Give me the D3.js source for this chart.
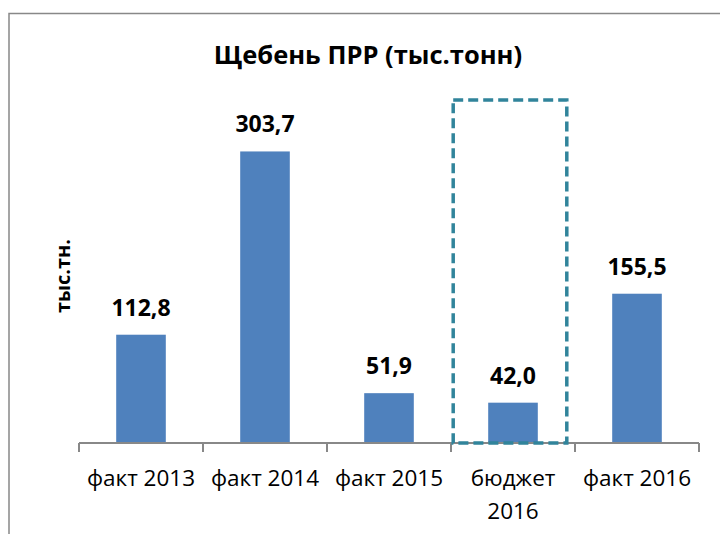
<!DOCTYPE html>
<html><head><meta charset="utf-8">
<script src="https://d3js.org/d3.v7.min.js"></script>
<style>body{margin:0;background:#fff}svg{display:block}</style>
</head><body>
<svg id="c" width="720" height="534"></svg>
<script>
const categories = ["факт 2013", "факт 2014", "факт 2015", "бюджет 2016", "факт 2016"];
const categoryLines = [["факт 2013"], ["факт 2014"], ["факт 2015"], ["бюджет", "2016"], ["факт 2016"]];
const values = [112.8, 303.7, 51.9, 42.0, 155.5];
const labels = ["112,8", "303,7", "51,9", "42,0", "155,5"];
const highlighted = "бюджет 2016";

const svg = d3.select("#c");
const font = "'Open Sans', 'Noto Sans', sans-serif";
const m = {left: 79, right: 21, top: 107, bottom: 91};
const W = 720, H = 534;
const x = d3.scaleBand().domain(categories).range([m.left, W - m.right]).paddingInner(0.6).paddingOuter(0.3);
const xb = d3.scaleBand().domain(categories).range([m.left, W - m.right]);
const y = d3.scaleLinear().domain([0, 350]).range([H - m.bottom, m.top]);

// outer border
svg.append("rect").attr("x", 9).attr("y", 13.5).attr("width", 730).attr("height", 540)
  .attr("fill", "none").attr("stroke", "#888").attr("stroke-width", 1.5);

svg.append("text").attr("x", 368).attr("y", 64).attr("text-anchor", "middle")
  .attr("font-family", font).attr("font-weight", "bold").attr("font-size", 25.5).text("Щебень ПРР (тыс.тонн)");

svg.append("text").attr("transform", "translate(70,276) rotate(-90)").attr("text-anchor", "middle")
  .attr("font-family", font).attr("font-weight", "bold").attr("font-size", 20).text("тыс.тн.");

svg.selectAll("rect.bar").data(categories).enter().append("rect").attr("class", "bar")
  .attr("x", d => x(d)).attr("width", x.bandwidth())
  .attr("y", (d, i) => y(values[i])).attr("height", (d, i) => y(0) - y(values[i]))
  .attr("fill", "#4F81BD");

svg.selectAll("text.val").data(categories).enter().append("text").attr("class", "val")
  .attr("x", d => x(d) + x.bandwidth() / 2).attr("y", (d, i) => y(values[i]) - 19)
  .attr("text-anchor", "middle").attr("font-family", font).attr("font-weight", "bold")
  .attr("font-size", 23).text((d, i) => labels[i]);

// axis
const ax = svg.append("g").attr("transform", `translate(0,${y(0)})`);
ax.append("line").attr("x1", m.left).attr("x2", W - m.right).attr("stroke", "#888").attr("stroke-width", 2);
const ticks = categories.map(d => xb(d)).concat([W - m.right]);
ax.selectAll("line.t").data(ticks).enter().append("line").attr("class", "t")
  .attr("x1", d => d).attr("x2", d => d).attr("y1", 0).attr("y2", 9).attr("stroke", "#888").attr("stroke-width", 2);
categories.forEach((c, i) => {
  const t = ax.append("text").attr("text-anchor", "middle").attr("font-family", font)
    .attr("font-size", 22.5).attr("fill", "#000");
  categoryLines[i].forEach((ln, j) => {
    t.append("tspan").attr("x", xb(c) + xb.bandwidth() / 2).attr("y", 43 + j * 33).text(ln);
  });
});

// dashed highlight box
svg.append("rect").attr("x", x(highlighted) - 35).attr("y", 100)
  .attr("width", x.bandwidth() + 64).attr("height", y(0) - 100)
  .attr("fill", "none").attr("stroke", "#31849B").attr("stroke-width", 3.5)
  .attr("stroke-dasharray", "10,5");
</script>
</body></html>
